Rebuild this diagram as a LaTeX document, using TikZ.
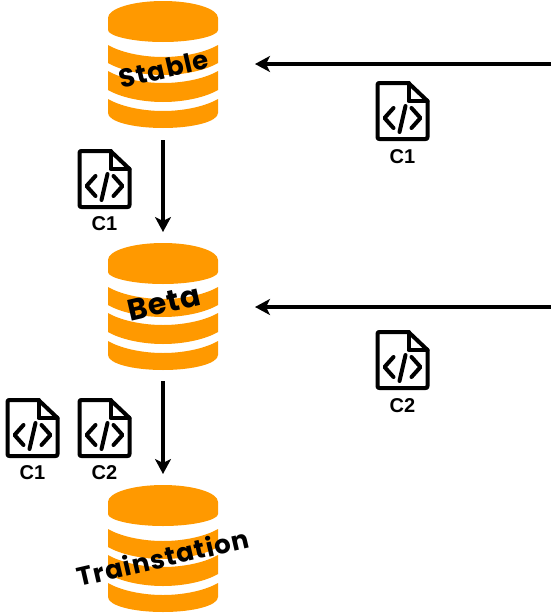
\documentclass[tikz,border=0pt]{standalone}
\usepackage{fontspec}
\usetikzlibrary{arrows.meta}
\newfontfamily\dbfont[LetterSpace=4]{Poppins}
\newfontfamily\filefont{Liberation Sans}
\definecolor{dborange}{RGB}{255,153,0}
\tikzset{
  flow/.style={line width=3.4pt,-{Stealth[length=15pt,width=16pt,inset=4pt]}},
  dbfill/.style={fill=dborange,draw=none},
  dbbox/.style={minimum width=110pt,minimum height=127pt,inner sep=0pt,outer sep=0pt},
  dblabel/.style={font=\dbfont\bfseries\fontsize{#1}{#1}\selectfont,rotate=13,text=black,inner sep=0pt},
  fileline/.style={line width=4pt,line join=round,line cap=round,draw=black},
  filelabel/.style={font=\filefont\bfseries\fontsize{20}{20}\selectfont,inner sep=0pt,text=black},
}
\newcommand{\dbband}[2]{%
  \fill[dbfill] (0,#1) .. controls (12,{#1+7}) and (33,{#1+12}) .. (55,{#1+12})
     .. controls (77,{#1+12}) and (98,{#1+7}) .. (110,#1)
     -- (110,#2) .. controls (98,{#2+7}) and (77,{#2+12}) .. (55,{#2+12})
     .. controls (33,{#2+12}) and (12,{#2+7}) .. (0,#2) -- cycle;}
\newcommand{\dbshape}[2]{%
  \begin{scope}[shift={(#1,#2)}]
    \fill[dbfill] (0,17) .. controls (0,7.6) and (24.6,0) .. (55,0)
      .. controls (85.4,0) and (110,7.6) .. (110,17)
      -- (110,29) .. controls (110,35) and (85.4,41) .. (55,41)
      .. controls (24.6,41) and (0,35) .. (0,29) -- cycle;
    \dbband{44}{62}
    \dbband{70}{89}
    \fill[dbfill] (0,98) .. controls (12,105) and (33,110) .. (55,110)
      .. controls (77,110) and (98,105) .. (110,98)
      -- (110,112) .. controls (110,120.5) and (85.4,127) .. (55,127)
      .. controls (24.6,127) and (0,120.5) .. (0,112) -- cycle;
  \end{scope}}
\newcommand{\fileicon}[2]{%
  \begin{scope}[shift={(#1,#2)}]
    \draw[fileline] (2,4) .. controls (2,2.5) and (2.5,2) .. (4,2) -- (33,2) -- (52,20) -- (52,56)
       .. controls (52,57.5) and (51.5,58) .. (50,58) -- (4,58) .. controls (2.5,58) and (2,57.5) .. (2,56) -- cycle;
    \draw[fileline] (33,2) -- (33,20) -- (52,20);
    \draw[fileline] (18,27) -- (9,37) -- (18,47);
    \draw[fileline] (36,27) -- (45,37) -- (36,47);
    \draw[fileline] (30,25) -- (24,51);
  \end{scope}}
\begin{document}
\begin{tikzpicture}[x=1pt,y=-1pt]
\useasboundingbox (0,0) rectangle (551,613);
\dbshape{108}{1}
\dbshape{108}{243}
\dbshape{108}{485}
\node[dbbox] (stable) at (163,64.5) {};
\node[dbbox] (beta) at (163,306.5) {};
\node[dbbox] (train) at (163,548.5) {};
\node[dblabel=26] (stableText) at (164,69) {Stable};
\node[dblabel=30] (betaText) at (164,303) {Beta};
\node[dblabel=26] (trainText) at (163,557) {Trainstation};
\coordinate (inA) at (551,64);
\coordinate (inB) at (551,307);
\draw[flow,shorten <=12pt,shorten >=11pt] (stable.south) -- (beta.north);
\draw[flow,shorten <=11pt,shorten >=11pt] (beta.south) -- (train.north);
\draw[flow,shorten >=37pt] (inA) -- (stable.east |- inA);
\draw[flow,shorten >=37pt] (inB) -- (beta.east |- inB);
\fileicon{375.5}{81}
\fileicon{375.5}{330}
\fileicon{77.5}{149}
\fileicon{5.5}{398}
\fileicon{77.5}{398}
\node[filelabel] (la) at (402.5,157) {C1};
\node[filelabel] (lb) at (402.5,405.5) {C2};
\node[filelabel] (lc) at (104.5,223.5) {C1};
\node[filelabel] (ld) at (32.5,473) {C1};
\node[filelabel] (le) at (104.5,473) {C2};
\end{tikzpicture}
\end{document}
